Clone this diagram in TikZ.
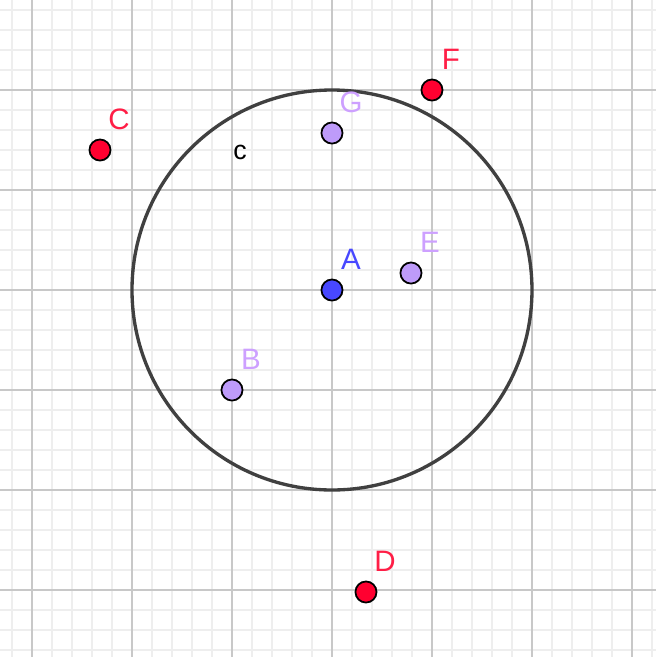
\documentclass[tikz,border=0pt]{standalone}
\usepackage{fontspec}
\setmainfont{Liberation Sans}
\usetikzlibrary{calc}
\definecolor{PointBlue}{RGB}{72,72,255}
\definecolor{PointLilac}{RGB}{190,155,250}
\definecolor{PointRed}{RGB}{255,0,48}
\definecolor{TagLilac}{RGB}{205,160,255}
\definecolor{TagRed}{RGB}{255,30,70}
\definecolor{CircleGray}{RGB}{64,64,64}
\def\Points{A/0/0/PointBlue/PointBlue, B/-1/-1/PointLilac/TagLilac, C/-2.32/1.40/PointRed/TagRed, D/0.34/-3.02/PointRed/TagRed, E/0.79/0.17/PointLilac/TagLilac, F/1/2/PointRed/TagRed, G/0/1.57/PointLilac/TagLilac}
\newcommand{\Size}{1cm}
\tikzset{Dot/.style={
		circle,
		inner sep=0pt,
		minimum size=0.21\Size,
		draw=black,
		line width=0.5pt,
	},
	Tag/.style={
		inner sep=0pt,
		font=\fontsize{8.4pt}{10pt}\selectfont,
	},
	MinorGrid/.style={draw={rgb,255:red,238;green,238;blue,238}, line width=0.3pt},
	MajorGrid/.style={draw={rgb,255:red,200;green,200;blue,200}, line width=0.45pt},
}

\begin{document}
\begin{tikzpicture}[x=\Size,y=\Size]
		\useasboundingbox (-3.32,-3.67) rectangle (3.24,2.90);
		\clip (-3.32,-3.67) rectangle (3.24,2.90);
		% grid
		\draw[MinorGrid] (-3.4,-3.8) grid[step=0.2] (3.4,3.0);
		\draw[MajorGrid] (-3.4,-3.8) grid[step=1] (3.4,3.0);
		% circle through F
		\coordinate (centre) at (0,0);
		\draw[CircleGray, line width=0.95pt] (centre) circle (2);
		\node[Tag, font=\fontsize{7.6pt}{9pt}\selectfont] (c-tag) at (-0.92,1.38) {c};
		\foreach \name/\px/\py/\fillcolor/\tagcolor in \Points{%
			\node[Dot, fill=\fillcolor] (\name) at (\px,\py) {};
			\node[Tag, text=\tagcolor] (\name-tag) at ($(\name)+(0.19,0.31)$) {\name};
		}
	\end{tikzpicture}
\end{document}
